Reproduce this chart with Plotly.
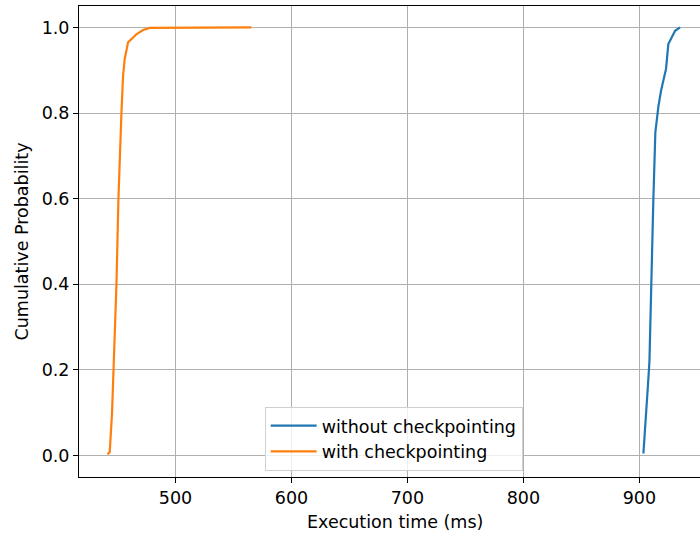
import plotly.graph_objects as go

# Series: without checkpointing (blue)
without_x = [903.5, 905.5, 907.8, 908.7, 910.1, 912.1, 913.8, 915.5, 916.4, 918.7, 921.6, 923.0, 925.0, 927.9, 930.8, 935.1]
without_p = [0.005, 0.10, 0.18, 0.22, 0.40, 0.60, 0.755, 0.80, 0.815, 0.852, 0.89, 0.903, 0.961, 0.977, 0.992, 1.0]

# Series: with checkpointing (orange)
with_x = [441.3, 443.3, 445.3, 446.7, 449.1, 450.8, 451.7, 453.4, 454.8, 456.2, 459.1, 463.4, 466.3, 472.0, 477.8, 565.5]
with_p = [0.003, 0.008, 0.10, 0.20, 0.40, 0.60, 0.69, 0.80, 0.887, 0.926, 0.965, 0.977, 0.984, 0.994, 0.999, 1.0]

x_range = [416.8, 952.3]
y_range = [-0.05, 1.05]
x_title = "Execution time (ms)"
y_title = "Cumulative Probability"

font = dict(family="DejaVu Sans", size=17.5, color="#000000")

fig = go.Figure()
fig.add_trace(go.Scatter(x=without_x, y=without_p, mode="lines", name="without checkpointing",
                         line=dict(color="#1f77b4", width=2.2)))
fig.add_trace(go.Scatter(x=with_x, y=with_p, mode="lines", name="with checkpointing",
                         line=dict(color="#ff7f0e", width=2.2)))

axis_common = dict(showline=True, linecolor="#000000", linewidth=1, showgrid=True,
                   gridcolor="#b0b0b0", gridwidth=1, zeroline=False, ticks="outside",
                   ticklen=5, tickcolor="#000000", tickfont=font)

fig.update_layout(
    width=700, height=535,
    margin=dict(l=79, r=0, t=6, b=58),
    paper_bgcolor="white", plot_bgcolor="white",
    font=font,
    showlegend=True,
    legend=dict(x=0.299, y=0.081, xanchor="left", yanchor="middle",
                bordercolor="#d0d0d0", borderwidth=1, bgcolor="rgba(255,255,255,0.8)",
                font=font, tracegroupgap=0, itemwidth=46),
    xaxis=dict(range=x_range, dtick=100, tick0=0, mirror=True, **axis_common),
    yaxis=dict(range=y_range, dtick=0.2, tick0=0, tickformat=".1f", mirror=False,
               title=dict(text=y_title, font=font, standoff=8), **axis_common),
    annotations=[dict(text=x_title, xref="paper", yref="paper", x=0.5, xshift=5,
                      y=0, yshift=-45, xanchor="center", yanchor="middle",
                      showarrow=False, font=font)],
)

fig.write_html("out.html")
